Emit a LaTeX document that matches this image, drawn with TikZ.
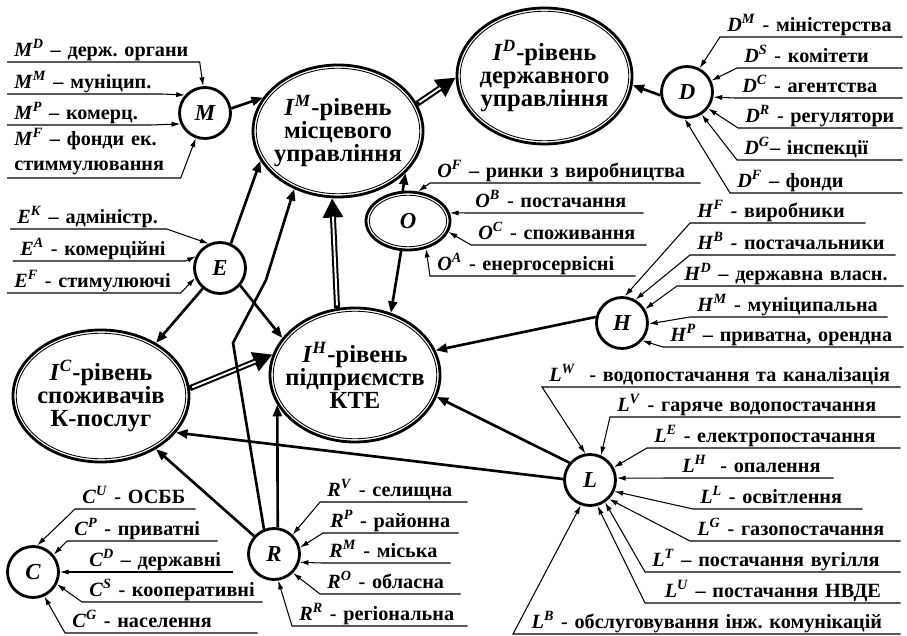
\documentclass[tikz,border=0pt]{standalone}
\usepackage{fontspec}
\setmainfont{Liberation Serif}
\frenchspacing
\usetikzlibrary{arrows.meta,shapes.geometric}
\tikzset{
  unit/.style={circle, draw=black, line width=1.6pt, minimum size=1.02cm, inner sep=0pt, font=\bfseries\itshape\fontsize{13}{15}\selectfont},
  level/.style={ellipse, draw=black, line width=1.6pt, inner xsep=-0.4cm, inner ysep=0pt, align=center, font=\bfseries\fontsize{14}{13}\selectfont},
  hub/.style={ellipse, draw=black, line width=1.6pt, inner sep=0pt, font=\bfseries\itshape\fontsize{13}{15}\selectfont},
  levelring/.style={line width=0.5pt, draw=black},
  item/.style={anchor=south west, inner xsep=0.14cm, inner ysep=0pt, text depth=3pt, text width=#1, align=left, font=\bfseries\fontsize{11.5}{14.2}\selectfont},
  feed/.style={line width=0.6pt, -{Latex[length=5pt,width=3pt]}},
  link/.style={line width=1.5pt, -{Triangle[length=6.5pt,width=5pt]}},
  pipe/.style={line width=3.4pt, -{Triangle[length=11pt,width=11pt]}, postaction={draw=white, line width=1.1pt, -, shorten >=10.5pt, shorten <=1.5pt}},
}
\begin{document}
\begin{tikzpicture}
\useasboundingbox (0,0) rectangle (18.14,12.70);
\node[level, minimum width=3.40cm, minimum height=2.64cm] (IM) at (6.76,10.08) {\textit{I}\textsuperscript{\textit{M}}-рівень\\місцевого\\управління};
\draw[levelring] (IM.center) ellipse (1.635 and 1.255);
\node[level, minimum width=3.50cm, minimum height=2.72cm] (ID) at (10.89,11.18) {\textit{I}\textsuperscript{\textit{D}}-рівень\\державного\\управління};
\draw[levelring] (ID.center) ellipse (1.685 and 1.295);
\node[level, minimum width=3.52cm, minimum height=2.64cm] (IC) at (2.02,4.78) {\textit{I}\textsuperscript{\textit{C}}-рівень\\споживачів\\К-послуг};
\draw[levelring] (IC.center) ellipse (1.695 and 1.255);
\node[level, minimum width=3.40cm, minimum height=2.68cm] (IH) at (7.10,5.20) {\textit{I}\textsuperscript{\textit{H}}-рівень\\підприємств\\КТЕ};
\draw[levelring] (IH.center) ellipse (1.635 and 1.275);
\node[hub, minimum width=1.68cm, minimum height=1.16cm] (O) at (8.16,8.28) {O};
\draw[levelring] (O.center) ellipse (0.775 and 0.515);
\node[unit] (M) at (4.10,10.44) {M};
\node[unit] (D) at (13.74,10.86) {D};
\node[unit] (E) at (4.40,7.34) {E};
\node[unit] (H) at (12.44,6.24) {H};
\node[unit] (L) at (11.80,3.10) {L};
\node[unit] (R) at (5.48,1.62) {R};
\node[unit] (C) at (0.66,1.26) {C};
\coordinate (bendA) at (4.66,5.84);
\coordinate (bendB) at (5.32,7.10);
\draw[link] (M.10) -- (IM.156);
\draw[pipe] (IM.19) -- (ID.181);
\draw[link] (D.187) -- (ID.354);
\draw[link] (E.66) -- (IM.201);
\draw[link] (E.230) -- (IC.44);
\draw[link] (E.319) -- (IH.153);
\draw[pipe] (IC.5) -- (IH.166);
\draw[pipe] (IH.105) -- (IM.265);
\draw[link] (O.100) -- (IM.328);
\draw[link] (O.257) -- (IH.60);
\draw[link] (H.167) -- (IH.17);
\draw[link] (L.140) -- (IH.345);
\draw[link] (L.178) -- (IC.334);
\draw[link] (R.138) -- (IC.316);
\draw[link] (R.82) -- (IH.201);
\draw[link] (R.112) -- (bendA) -- (bendB) -- (IM.233);
\node[item=3.56cm] (mD) at (0.14,11.46) {\textit{M}\textsuperscript{\textit{D}} – держ. органи};
\draw[feed] (mD.south west) -- (mD.south east) -- (M.94);
\node[item=2.80cm] (mM) at (0.14,10.82) {\textit{M}\textsuperscript{\textit{M}} – муніцип.};
\draw[feed] (mM.south west) -- (mM.south east) -- (M.138);
\node[item=2.58cm] (mP) at (0.14,10.20) {\textit{M}\textsuperscript{\textit{P}} – комерц.};
\draw[feed] (mP.south west) -- (mP.south east) -- (M.204);
\node[item=3.18cm, text depth={}] (mF) at (0.14,9.14) {\textit{M}\textsuperscript{\textit{F}} – фонди ек.\\стиммулювання\strut};
\draw[feed] (mF.south west) -- (mF.south east) -- (M.250);
\node[item=2.84cm] (eK) at (0.20,8.12) {\textit{E}\textsuperscript{\textit{K}} – адміністр.};
\draw[feed] (eK.south west) -- (eK.south east) -- (E.115);
\node[item=3.16cm] (eA) at (0.26,7.48) {\textit{E}\textsuperscript{\textit{A}} - комерційні};
\draw[feed] (eA.south west) -- (eA.south east) -- (E.154);
\node[item=3.18cm] (eF) at (0.14,6.84) {\textit{E}\textsuperscript{\textit{F}} - стимулюючі};
\draw[feed] (eF.south west) -- (eF.south east) -- (E.202);
\node[item=3.36cm] (dM) at (14.40,11.96) {\textit{D}\textsuperscript{\textit{M}} - міністерства};
\draw[feed] (dM.south east) -- (dM.south west) -- (D.62);
\node[item=3.02cm] (dS) at (14.74,11.34) {\textit{D}\textsuperscript{\textit{S}} - комітети};
\draw[feed] (dS.south east) -- (dS.south west) -- (D.25);
\node[item=3.06cm] (dC) at (14.70,10.74) {\textit{D}\textsuperscript{\textit{C}} - агентства};
\draw[feed] (dC.south east) -- (dC.south west) -- (D.349);
\node[item=3.00cm] (dR) at (14.76,10.14) {\textit{D}\textsuperscript{\textit{R}} - регулятори};
\draw[feed] (dR.south east) -- (dR.south west) -- (D.322);
\node[item=3.02cm] (dG) at (14.74,9.50) {\textit{D}\textsuperscript{\textit{G}}– інспекції};
\draw[feed] (dG.south east) -- (dG.south west) -- (D.303);
\node[item=3.16cm] (dF) at (14.60,8.84) {\textit{D}\textsuperscript{\textit{F}} – фонди};
\draw[feed] (dF.south east) -- (dF.south west) -- (D.265);
\node[item=5.12cm] (oF) at (8.60,9.04) {\textit{O}\textsuperscript{\textit{F}} – ринки з виробництва};
\draw[feed] (oF.south east) -- (oF.south west) -- (O.71);
\node[item=3.22cm] (oB) at (9.36,8.44) {\textit{O}\textsuperscript{\textit{B}} - постачання};
\draw[feed] (oB.south east) -- (oB.south west) -- (O.11);
\node[item=3.22cm] (oC) at (9.42,7.80) {\textit{O}\textsuperscript{\textit{C}} - споживання};
\draw[feed] (oC.south east) -- (oC.south west) -- (O.345);
\node[item=3.82cm] (oA) at (8.60,7.18) {\textit{O}\textsuperscript{\textit{A}} - енергосервісні};
\draw[feed] (oA.south east) -- (oA.south west) -- (O.303);
\node[item=3.22cm] (hF) at (13.80,8.24) {\textit{H}\textsuperscript{\textit{F}} - виробники};
\draw[feed] (hF.south east) -- (hF.south west) -- (H.84);
\node[item=3.82cm] (hB) at (13.80,7.60) {\textit{H}\textsuperscript{\textit{B}} - постачальники};
\draw[feed] (hB.south east) -- (hB.south west) -- (H.60);
\node[item=4.24cm] (hD) at (13.54,6.98) {\textit{H}\textsuperscript{\textit{D}} – державна власн.};
\draw[feed] (hD.south east) -- (hD.south west) -- (H.31);
\node[item=3.66cm] (hM) at (13.80,6.36) {\textit{H}\textsuperscript{\textit{M}} - муніципальна};
\draw[feed] (hM.south east) -- (hM.south west) -- (H.358);
\node[item=4.52cm] (hP) at (13.26,5.76) {\textit{H}\textsuperscript{\textit{P}} – приватна, орендна};
\draw[feed] (hP.south east) -- (hP.south west) -- (H.319);
\node[item=6.88cm] (lW) at (10.84,4.96) {\textit{L}\textsuperscript{\textit{W}}\ \ - водопостачання та каналізація};
\draw[feed] (lW.south east) -- (lW.south west) -- (L.100);
\node[item=5.52cm] (lV) at (12.20,4.36) {\textit{L}\textsuperscript{\textit{V}} - гаряче водопостачання};
\draw[feed] (lV.south east) -- (lV.south west) -- (L.66);
\node[item=4.78cm] (lE) at (12.94,3.74) {\textit{L}\textsuperscript{\textit{E}} - електропостачання};
\draw[feed] (lE.south east) -- (lE.south west) -- (L.28);
\node[item=2.88cm] (lH) at (13.50,3.14) {\textit{L}\textsuperscript{\textit{H}}\ \ - опалення};
\draw[feed] (lH.south east) -- (lH.south west) -- (L.4);
\node[item=3.10cm] (lL) at (13.86,2.52) {\textit{L}\textsuperscript{\textit{L}} - освітлення};
\draw[feed] (lL.south east) -- (lL.south west) -- (L.335);
\node[item=3.92cm] (lG) at (13.80,1.88) {\textit{L}\textsuperscript{\textit{G}} - газопостачання};
\draw[feed] (lG.south east) -- (lG.south west) -- (L.315);
\node[item=4.82cm] (lT) at (12.90,1.26) {\textit{L}\textsuperscript{\textit{T}} – постачання вугілля};
\draw[feed] (lT.south east) -- (lT.south west) -- (L.304);
\node[item=4.82cm, align=center] (lU) at (12.90,0.64) {\textit{L}\textsuperscript{\textit{U}} – постачання НВДЕ};
\draw[feed] (lU.south east) -- (lU.south west) -- (L.286);
\node[item=7.46cm, align=center] (lB) at (10.26,0.02) {\textit{L}\textsuperscript{\textit{B}} - обслуговування інж. комунікацій};
\draw[feed] (lB.south east) -- (lB.south west) -- (L.250);
\node[item=2.12cm] (cU) at (1.50,2.52) {\textit{C}\textsuperscript{\textit{U}} - ОСББ};
\draw[feed] (cU.south east) -- (cU.south west) -- (C.81);
\node[item=2.72cm] (cP) at (1.34,1.88) {\textit{C}\textsuperscript{\textit{P}} - приватні};
\draw[feed] (cP.south east) -- (cP.south west) -- (C.40);
\node[item=2.72cm] (cD) at (1.64,1.26) {\textit{C}\textsuperscript{\textit{D}} – державні};
\draw[feed] (cD.south east) -- (cD.south west) -- (C.0);
\node[item=3.32cm] (cS) at (1.64,0.66) {\textit{C}\textsuperscript{\textit{S}} - кооперативні};
\draw[feed] (cS.south east) -- (cS.south west) -- (C.333);
\node[item=3.56cm] (cG) at (1.30,0.04) {\textit{C}\textsuperscript{\textit{G}} - населення};
\draw[feed] (cG.south east) -- (cG.south west) -- (C.295);
\node[item=2.66cm] (rV) at (6.40,2.66) {\textit{R}\textsuperscript{\textit{V}} - селищна};
\draw[feed] (rV.south east) -- (rV.south west) -- (R.46);
\node[item=2.42cm] (rP) at (6.46,2.04) {\textit{R}\textsuperscript{\textit{P}} - районна};
\draw[feed] (rP.south east) -- (rP.south west) -- (R.14);
\node[item=2.28cm] (rM) at (6.44,1.44) {\textit{R}\textsuperscript{\textit{M}} - міська};
\draw[feed] (rM.south east) -- (rM.south west) -- (R.342);
\node[item=2.52cm] (rO) at (6.40,0.82) {\textit{R}\textsuperscript{\textit{O}} - обласна};
\draw[feed] (rO.south east) -- (rO.south west) -- (R.315);
\node[item=3.22cm] (rR) at (5.84,0.18) {\textit{R}\textsuperscript{\textit{R}} - регіональна};
\draw[feed] (rR.south east) -- (rR.south west) -- (R.279);
\end{tikzpicture}
\end{document}
